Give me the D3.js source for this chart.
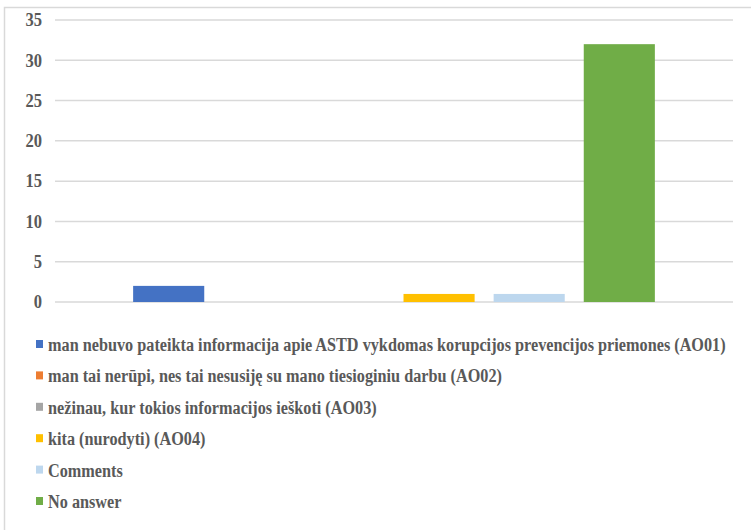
<!DOCTYPE html>
<meta charset="utf-8">
<body style="margin:0;background:#fff">
<script src="https://d3js.org/d3.v7.min.js"></script>
<script>

// data
var series = ["man nebuvo pateikta informacija apie ASTD vykdomas korupcijos prevencijos priemones (AO01)",
              "man tai nerūpi, nes tai nesusiję su mano tiesioginiu darbu (AO02)",
              "nežinau, kur tokios informacijos ieškoti (AO03)",
              "kita (nurodyti) (AO04)",
              "Comments",
              "No answer"];
var values = [2, 0, 0, 1, 1, 32];
var colors = ["#4472C4", "#ED7D31", "#A5A5A5", "#FFC000", "#BDD7EE", "#70AD47"];
var yTicks = [0, 5, 10, 15, 20, 25, 30, 35];

var W = 751, H = 530;
var font = "Liberation Serif", textColor = "#595959";

var svg = d3.select("body").append("svg")
    .attr("width", W)
    .attr("height", H);

// chart frame (only top and left edges are in view)
svg.append("path")
    .attr("d", "M4.5," + H + "V7.5H" + W)
    .attr("fill", "none")
    .attr("stroke", "#d9d9d9")
    .attr("stroke-width", 1.5);

var x = d3.scaleBand()
    .domain(series)
    .range([55, 733])
    .paddingInner(0.211)
    .paddingOuter(0.867);

var y = d3.scaleLinear()
    .domain([0, 35])
    .range([302, 20]);

// gridlines
svg.append("g")
  .selectAll("line")
  .data(yTicks)
  .enter().append("line")
    .attr("x1", 55)
    .attr("x2", 733)
    .attr("y1", function(d) { return y(d); })
    .attr("y2", function(d) { return y(d); })
    .attr("stroke", "#d9d9d9")
    .attr("stroke-width", 1.5);

// y axis labels
var yAxis = svg.append("g")
    .attr("transform", "translate(42,0)")
    .call(d3.axisLeft(y).tickValues(yTicks).tickSize(0).tickPadding(0));
yAxis.select(".domain").remove();
yAxis.selectAll(".tick text")
    .attr("font-family", font)
    .attr("font-weight", "bold")
    .attr("font-size", 18)
    .attr("fill", textColor)
    .attr("x", 0)
    .attr("dy", "0.32em")
    .attr("transform", "scale(0.92,1)");

// bars
svg.append("g")
  .selectAll("rect")
  .data(values)
  .enter().append("rect")
    .attr("x", function(d, i) { return x(series[i]); })
    .attr("y", function(d) { return y(d); })
    .attr("width", x.bandwidth())
    .attr("height", function(d) { return y(0) - y(d); })
    .attr("fill", function(d, i) { return colors[i]; });

// legend
var legend = svg.append("g")
  .selectAll("g")
  .data(series)
  .enter().append("g")
    .attr("transform", function(d, i) { return "translate(36," + (340 + i * 31.4) + ")"; });

legend.append("rect")
    .attr("width", 7)
    .attr("height", 8)
    .attr("fill", function(d, i) { return colors[i]; });

legend.append("text")
    .attr("transform", "translate(12,11) scale(0.855,1)")
    .attr("font-family", font)
    .attr("font-weight", "bold")
    .attr("font-size", 19)
    .attr("fill", textColor)
    .text(function(d) { return d; });

</script>
</body>
